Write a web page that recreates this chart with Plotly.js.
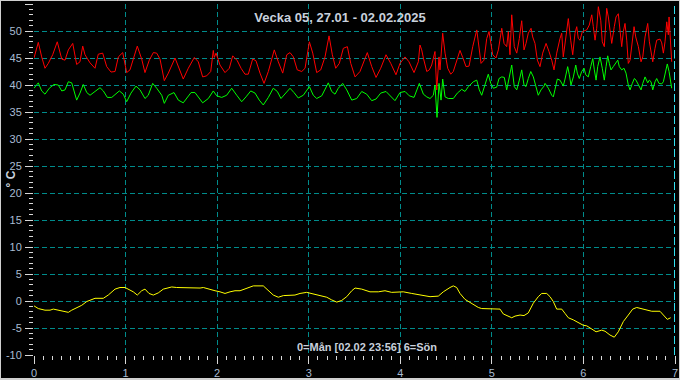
<!DOCTYPE html>
<html>
<head>
<meta charset="utf-8">
<script src="https://cdn.plot.ly/plotly-3.0.1.min.js"></script>
<style>
  html, body { margin: 0; padding: 0; background: #000; }
  #wrap { position: relative; width: 680px; height: 380px; }
  #chart { position: absolute; left: 0; top: 0; width: 680px; height: 380px; }
  #frame { position: absolute; left: 0; top: 0; width: 680px; height: 380px; box-sizing: border-box;
           border: 1px solid #d0d0d0; border-bottom-width: 2px; pointer-events: none; }
</style>
</head>
<body>
<div id="wrap"><div id="chart"></div><div id="frame"></div></div>
<script>
// ---- Data (x in days, 0 = Monday) ----
const chartTitle = "Vecka 05, 27.01 - 02.02.2025";
const xLabel = "0=Mån [02.02 23:56] 6=Sön";
const yLabel = "° C";

const xRed = [0.000,0.047,0.084,0.120,0.156,0.204,0.254,0.303,0.339,0.375,0.423,0.466,0.502,0.532,0.557,0.612,0.666,0.702,0.750,0.794,0.841,0.885,0.921,0.969,1.012,1.048,1.128,1.176,1.212,1.259,1.303,1.340,1.376,1.423,
1.467,1.540,1.630,1.685,1.751,1.794,1.842,1.886,1.930,1.958,1.969,1.988,2.031,2.086,2.133,2.170,2.220,2.261,2.304,2.340,2.388,2.424,2.468,2.512,2.559,2.624,2.668,2.716,2.760,2.796,
2.832,2.875,2.924,2.960,3.007,3.044,3.087,3.131,3.178,3.222,3.258,3.295,3.334,3.378,3.422,3.459,3.506,3.560,3.640,3.688,3.735,3.786,3.844,3.896,3.953,3.997,4.052,4.095,4.150,4.197,4.215,4.234,
4.252,4.289,4.317,4.343,4.379,4.398,4.423,4.434,4.463,4.489,4.518,4.551,4.579,4.609,4.652,4.682,4.718,4.751,4.791,4.835,4.863,4.882,4.914,4.944,4.969,4.988,5.009,5.045,5.071,5.108,5.133,5.162,5.180,5.198,5.217,5.245,5.272,5.300,5.326,5.351,5.373,5.398,5.428,5.446,5.471,5.497,5.526,5.555,5.592,
5.624,5.654,5.679,5.708,5.744,5.763,5.780,5.807,5.835,5.861,5.883,5.908,5.927,5.944,5.963,5.988,6.017,6.036,6.064,6.091,6.108,6.127,6.145,6.163,6.189,6.206,6.228,6.254,6.272,6.290,6.309,6.337,6.356,6.381,6.400,6.418,6.436,6.454,6.473,6.490,6.509,6.534,6.553,6.571,6.600,6.629,6.648,6.673,6.702,6.720,6.738,6.757,6.782,6.800,6.837,6.855,6.873,6.891,6.910,6.927,6.935,6.953,6.964];
const red = [45.0,47.9,45.2,43.1,44.0,45.6,48.0,44.8,44.6,46.5,47.7,43.8,44.3,47.2,45.6,44.1,43.1,45.7,45.9,43.4,42.4,42.5,45.2,46.0,42.3,42.8,47.2,44.8,42.3,44.6,46.0,45.9,44.8,40.8,
42.2,45.0,41.1,43.1,45.1,44.3,41.5,41.7,42.5,46.4,45.1,45.9,43.7,42.3,43.1,45.4,44.5,43.1,42.0,42.0,44.8,44.5,42.2,40.3,42.5,46.5,44.3,42.2,45.6,46.0,
45.2,42.8,42.5,43.1,48.0,45.9,42.3,42.8,45.2,49.1,45.6,43.1,44.0,46.8,47.1,44.0,41.5,42.5,46.0,43.4,41.4,43.1,45.6,44.0,41.9,44.0,45.2,44.3,42.3,44.3,47.4,46.5,
45.0,42.5,42.8,43.7,46.2,39.1,45.2,42.8,49.6,45.9,43.1,42.0,42.5,44.3,46.4,45.1,43.4,43.5,47.1,50.2,46.5,44.0,44.6,48.6,49.9,47.7,45.6,45.0,46.5,50.5,47.7,47.1,49.9,45.6,53.0,47.1,45.9,48.6,51.9,46.5,47.7,49.6,50.5,48.9,47.7,44.6,43.4,45.9,47.7,
46.2,44.6,42.8,45.9,48.6,49.6,45.2,48.3,52.3,48.3,45.6,49.6,50.8,48.6,48.3,49.9,50.1,50.2,51.1,53.0,50.8,48.3,50.5,54.5,52.0,48.0,47.1,54.2,52.6,49.6,47.7,50.8,52.6,53.2,50.2,47.1,49.9,51.4,48.3,44.0,44.6,47.7,50.8,48.9,47.1,44.3,45.2,48.9,51.4,48.0,46.2,44.3,46.8,48.3,48.5,47.8,45.9,48.0,51.7,49.3,52.6,46.5,44.3];

const xGreen = [0.000,0.047,0.084,0.120,0.167,0.218,0.265,0.303,0.339,0.375,0.412,0.466,0.502,0.538,0.576,0.612,0.666,0.721,0.757,0.801,0.849,0.932,0.975,1.012,1.059,1.114,1.158,1.212,1.248,1.296,1.340,1.395,1.423,
1.467,1.529,1.576,1.630,1.715,1.758,1.805,1.842,1.904,1.958,1.995,2.050,2.104,2.159,2.214,2.268,2.315,2.367,2.414,2.460,2.504,2.559,2.613,2.657,2.697,2.760,2.796,
2.839,2.886,2.941,3.007,3.050,3.087,3.142,3.214,3.251,3.287,3.323,3.371,3.415,3.470,3.524,3.579,3.633,3.688,3.735,3.786,3.844,3.888,3.942,3.997,4.052,4.098,4.150,4.208,4.234,
4.252,4.289,4.325,4.361,4.379,4.401,4.423,4.445,4.463,4.489,4.524,4.579,4.623,4.671,4.707,4.743,4.798,4.835,4.863,4.889,4.925,4.961,4.988,5.016,5.053,5.078,5.108,5.136,5.162,5.180,5.198,5.217,5.245,5.272,5.300,5.326,5.351,5.373,5.398,5.425,5.453,5.482,5.507,5.537,5.570,
5.581,5.617,5.654,5.671,5.690,5.715,5.744,5.763,5.780,5.799,5.828,5.846,5.864,5.890,5.916,5.933,5.955,5.981,6.007,6.025,6.053,6.080,6.102,6.119,6.138,6.156,6.181,6.206,6.228,6.247,6.265,6.283,6.301,6.326,6.353,6.375,6.392,6.418,6.443,6.465,6.490,6.509,6.534,6.556,6.574,6.600,6.629,6.648,6.673,6.702,6.720,6.738,6.757,6.782,6.800,6.825,6.855,6.873,6.898,6.916,6.935,6.949,6.964];
const green = [39.4,40.4,38.9,38.3,39.4,40.1,40.0,38.9,39.1,40.6,40.4,37.2,38.5,40.1,38.6,38.1,38.8,39.5,38.9,37.7,37.7,38.9,38.3,36.9,38.5,39.8,39.1,37.5,38.1,40.3,39.4,38.1,36.6,
38.1,38.6,37.2,36.7,38.6,38.6,37.4,36.7,37.5,38.9,38.0,37.7,38.1,39.4,38.1,36.9,37.8,38.9,38.5,37.2,36.3,37.7,39.4,38.8,37.5,38.6,39.4,
38.6,37.6,38.1,39.7,38.1,37.5,38.0,40.4,38.8,38.3,39.4,40.3,39.1,37.2,37.5,38.8,38.3,37.1,37.4,38.5,38.8,38.1,37.1,38.6,38.8,38.0,37.7,40.3,38.9,
38.3,37.8,37.5,38.1,40.0,34.0,40.3,37.2,41.1,37.8,37.5,37.5,38.5,39.2,38.8,39.7,40.6,40.9,39.1,38.1,40.3,42.0,40.3,39.4,39.6,41.2,41.5,41.4,39.1,40.6,42.5,43.7,39.7,39.1,40.9,42.8,40.0,39.7,41.2,42.5,41.5,39.4,38.1,39.1,39.8,
40.3,39.4,38.1,37.8,39.2,41.1,40.9,40.3,39.8,41.1,43.4,41.9,40.0,41.5,43.7,42.2,41.2,42.5,43.1,41.9,41.5,43.4,44.9,42.8,40.9,43.4,45.2,43.1,40.9,43.4,45.4,44.0,42.8,43.4,44.0,44.6,43.4,42.8,43.1,42.2,40.0,39.1,40.3,41.2,40.9,40.0,39.1,40.3,41.5,40.4,40.9,40.6,39.1,40.6,41.2,40.3,40.2,40.6,42.8,43.9,42.5,40.9,39.4];

const xYellow = [0.000,0.047,0.120,0.175,0.211,0.265,0.320,0.375,0.412,0.466,0.521,0.576,0.612,0.666,0.757,0.811,0.885,0.939,0.994,1.030,1.084,1.128,1.176,1.212,1.256,1.303,1.357,1.412,1.467,1.504,1.558,1.668,1.813,1.849,1.904,1.977,2.031,2.086,2.141,2.195,2.250,
2.323,2.395,2.504,2.559,2.613,2.668,2.723,2.850,2.905,2.978,3.033,3.123,3.197,3.251,3.306,3.360,3.415,3.470,3.506,3.579,3.669,3.760,3.833,3.906,3.961,4.033,4.125,4.234,4.325,4.415,4.470,4.543,4.579,4.616,
4.652,4.707,4.743,4.798,4.852,4.889,4.944,5.016,5.089,5.125,5.162,5.217,5.253,5.308,5.351,5.398,5.453,5.507,5.545,5.599,5.635,5.671,5.708,5.763,5.799,5.835,5.890,5.944,5.999,6.036,6.091,6.138,6.200,6.236,6.290,6.337,6.381,6.436,6.490,6.538,6.582,6.637,6.691,6.746,6.836,6.873,6.916,6.953];
const yellow = [-0.9,-1.4,-1.7,-1.7,-1.5,-1.7,-1.8,-2.1,-1.7,-1.2,-0.8,-0.1,0.2,0.5,0.5,1.1,2.2,2.5,2.5,2.2,1.7,1.1,1.9,2.2,1.4,1.1,1.5,2.2,2.5,2.6,2.5,2.4,2.4,2.5,2.2,1.9,1.7,1.4,1.7,1.9,1.9,
2.4,2.8,2.8,1.9,1.1,0.7,1.0,1.1,1.4,1.6,1.4,1.0,0.7,0.2,-0.2,0.1,0.8,1.9,2.4,2.2,1.7,1.7,1.9,1.6,1.7,1.7,1.4,1.1,0.8,0.9,1.7,2.5,2.8,2.5,
1.4,0.3,-0.1,-0.7,-1.2,-1.4,-1.4,-1.5,-1.5,-2.4,-2.7,-3.1,-2.8,-2.6,-2.7,-2.2,-0.4,0.8,1.4,1.4,0.8,-0.1,-1.5,-1.5,-2.3,-3.1,-3.5,-4.0,-4.5,-4.6,-5.2,-5.7,-5.4,-5.6,-6.3,-6.7,-5.7,-3.8,-2.6,-1.5,-1.2,-1.4,-1.7,-1.9,-1.9,-2.6,-3.4,-3.1];

const xTicks = [0,1,2,3,4,5,6,7];
const yTicks = [-10,-5,0,5,10,15,20,25,30,35,40,45,50,55];

// ---- Styles ----
const textColor = '#c8d0dc';
const tickLabelColor = '#a9bcd3';
const gridColor = '#008b8b';
const tickColor = '#d8d8d8';
const fontFamily = 'Liberation Sans, Arial, sans-serif';

const traces = [
  {x: xRed, y: red, type: 'scatter', mode: 'lines', line: {color: '#ff0000', width: 1}, hoverinfo: 'skip'},
  {x: xGreen, y: green, type: 'scatter', mode: 'lines', line: {color: '#00ff00', width: 1}, hoverinfo: 'skip'},
  {x: xYellow, y: yellow, type: 'scatter', mode: 'lines', line: {color: '#ffff00', width: 1}, hoverinfo: 'skip'}
];

const layout = {
  width: 680, height: 380,
  paper_bgcolor: '#000000', plot_bgcolor: '#000000',
  margin: {l: 34, r: 5, t: 4, b: 25},
  showlegend: false,
  font: {family: fontFamily, color: tickLabelColor, size: 11},
  title: {text: chartTitle, x: 0.5, xanchor: 'center', y: 0.955, yanchor: 'middle', yref: 'container',
          font: {family: fontFamily, size: 13, color: textColor, weight: 'bold'}},
  xaxis: {
    range: [0, 7], tickvals: xTicks, ticktext: xTicks.map(String),
    showgrid: true, gridcolor: gridColor, griddash: '5px,3px', gridwidth: 1,
    zeroline: false, showline: false,
    ticks: 'outside', ticklen: 8, tickcolor: tickColor, tickwidth: 1,
    minor: {dtick: 0.1, ticks: 'outside', ticklen: 4, tickcolor: tickColor, showgrid: false},
    tickfont: {size: 11, color: tickLabelColor}
  },
  yaxis: {
    range: [-10, 55], tickvals: yTicks, ticktext: yTicks.map(String),
    showgrid: true, gridcolor: gridColor, griddash: '5px,3px', gridwidth: 1,
    zeroline: false, showline: false,
    ticks: 'outside', ticklen: 8, tickcolor: tickColor, tickwidth: 1,
    minor: {dtick: 1, ticks: 'outside', ticklen: 4, tickcolor: tickColor, showgrid: false},
    tickfont: {size: 11, color: tickLabelColor}, ticklabelstandoff: 1
  },
  shapes: [
    {type: 'line', xref: 'x', yref: 'paper', x0: 7, x1: 7, y0: 0, y1: 1,
     line: {color: '#33e0f0', width: 2, dash: '8px,3px'}}
  ],
  annotations: [
    {text: xLabel, xref: 'paper', yref: 'paper', x: 0.5, y: 0, xshift: 12, yshift: 0,
     xanchor: 'center', yanchor: 'bottom', showarrow: false,
     font: {family: fontFamily, size: 11, color: textColor, weight: 'bold'}},
    {text: yLabel, xref: 'paper', yref: 'paper', x: 0, y: 0.5, xshift: -24, textangle: -90,
     xanchor: 'center', yanchor: 'middle', showarrow: false,
     font: {family: fontFamily, size: 12, color: textColor, weight: 'bold'}}
  ]
};

Plotly.newPlot('chart', traces, layout, {displayModeBar: false, staticPlot: true});
</script>
</body>
</html>
